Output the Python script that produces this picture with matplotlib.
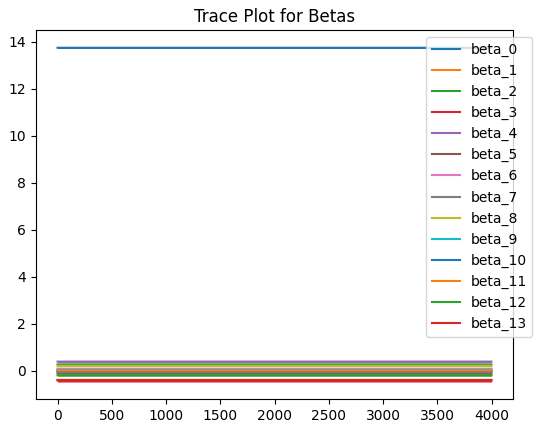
import matplotlib
matplotlib.use("Agg")
import matplotlib.pyplot as plt
import numpy as np

names = [f"beta_{i}" for i in range(14)]
means = [13.75, 0.02, 0.28, -0.38, 0.40, -0.10, 0.10, -0.05, 0.22, 0.05, 0.00, 0.02, -0.18, -0.40]
spread = [0.03, 0.04, 0.04, 0.06, 0.04, 0.03, 0.03, 0.03, 0.03, 0.03, 0.03, 0.04, 0.04, 0.07]
n_iter = 4000

fig, ax = plt.subplots(figsize=(5.43, 4.33), dpi=100)
x = np.arange(n_iter)
for i, (nm, m, s) in enumerate(zip(names, means, spread)):
    c = f"C{i % 10}"
    ax.fill_between(x, m - s, m + s, color=c, lw=0)
    ax.plot(x, np.full(n_iter, m), color=c, lw=1.5, label=nm)
ax.set_title("Trace Plot for Betas")
ax.legend(loc="upper right", bbox_to_anchor=(1.055, 1.0))
fig.subplots_adjust(left=0.066, right=0.945, bottom=0.079, top=0.93)
fig.savefig("out.png")
